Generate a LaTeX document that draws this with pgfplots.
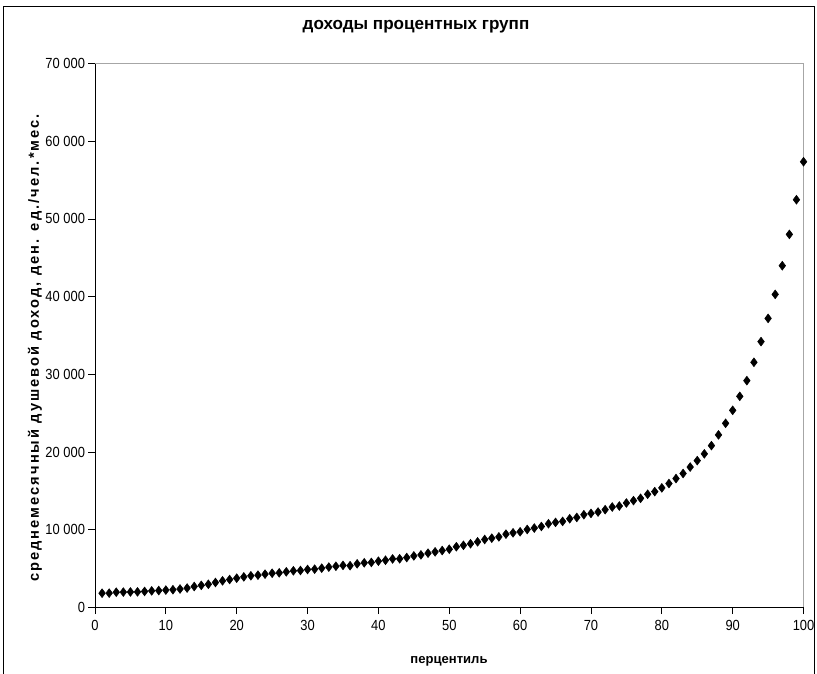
\documentclass[border=0pt]{standalone}
\usepackage{fontspec}
\setmainfont{Liberation Sans}
\newfontfamily\spacedfont[LetterSpace=14]{Liberation Sans}
\newfontfamily\tickfont[FakeStretch=0.88]{Liberation Sans}
\usepackage{pgfplots}
\pgfplotsset{compat=1.18}
\pgfplotstableread{
p v
1 1840
2 1850
3 1970
4 1980
5 2000
6 2010
7 2070
8 2140
9 2180
10 2240
11 2290
12 2380
13 2500
14 2700
15 2850
16 2990
17 3220
18 3430
19 3600
20 3770
21 3940
22 4080
23 4160
24 4290
25 4410
26 4460
27 4590
28 4720
29 4760
30 4890
31 4930
32 5060
33 5200
34 5310
35 5420
36 5380
37 5620
38 5750
39 5800
40 5960
41 6080
42 6250
43 6270
44 6430
45 6640
46 6770
47 6990
48 7160
49 7330
50 7500
51 7820
52 8000
53 8200
54 8450
55 8750
56 8920
57 9090
58 9440
59 9610
60 9740
61 10040
62 10220
63 10430
64 10780
65 10950
66 11080
67 11420
68 11590
69 11940
70 12110
71 12280
72 12590
73 12930
74 13060
75 13450
76 13750
77 14050
78 14570
79 14910
80 15390
81 15950
82 16590
83 17240
84 18070
85 18900
86 19770
87 20830
88 22210
89 23700
90 25370
91 27170
92 29190
93 31550
94 34210
95 37200
96 40290
97 43980
98 48010
99 52470
100 57360
}\incomes
\begin{document}
\begin{tikzpicture}[x=0.75pt,y=0.75pt]
\path[use as bounding box] (0,0) rectangle (817,674);
\draw[black,line width=0.75pt] (3,0) -- (3,667) -- (814,667) -- (814,0);
\begin{axis}[
  at={(95*0.75pt,66.5*0.75pt)}, anchor=origin,
  scale only axis, width=531.4pt, height=408pt,
  xmin=0, xmax=100, ymin=0, ymax=70000,
  xtick={0,10,...,100}, ytick={0,10000,...,70000},
  axis x line*=bottom, axis y line*=left,
  x axis line style={draw=black,-}, y axis line style={draw=black,-},
  tick align=outside, tick style={black, line width=0.6pt},
  major tick length=5pt,
  minor tick num=0,
  scaled y ticks=false,
  /pgf/number format/assume math mode=true,
  /pgf/number format/1000 sep={\ },
  ticklabel style={font=\tickfont\fontsize{11}{13}\selectfont},
  xticklabel style={yshift=-1pt},
  yticklabel style={xshift=1pt},
  clip=false,
]
\draw[gray!70, line width=0.6pt] (axis cs:0,70000) -- (axis cs:100,70000) -- (axis cs:100,0);
\addplot[only marks, mark=diamond*, mark size=3.3pt, black] table[x=p,y=v] {\incomes};
\end{axis}
\node[font=\bfseries\fontsize{12.8}{15}\selectfont] at (416,647) {доходы процентных групп};
\node[font=\bfseries\fontsize{9.8}{11}\selectfont] at (449,13) {перцентиль};
\node[rotate=90, font=\bfseries\spacedfont\fontsize{11}{13}\selectfont] at (35,326) {среднемесячный душевой доход, ден. ед./чел.*мес.};
\end{tikzpicture}
\end{document}
